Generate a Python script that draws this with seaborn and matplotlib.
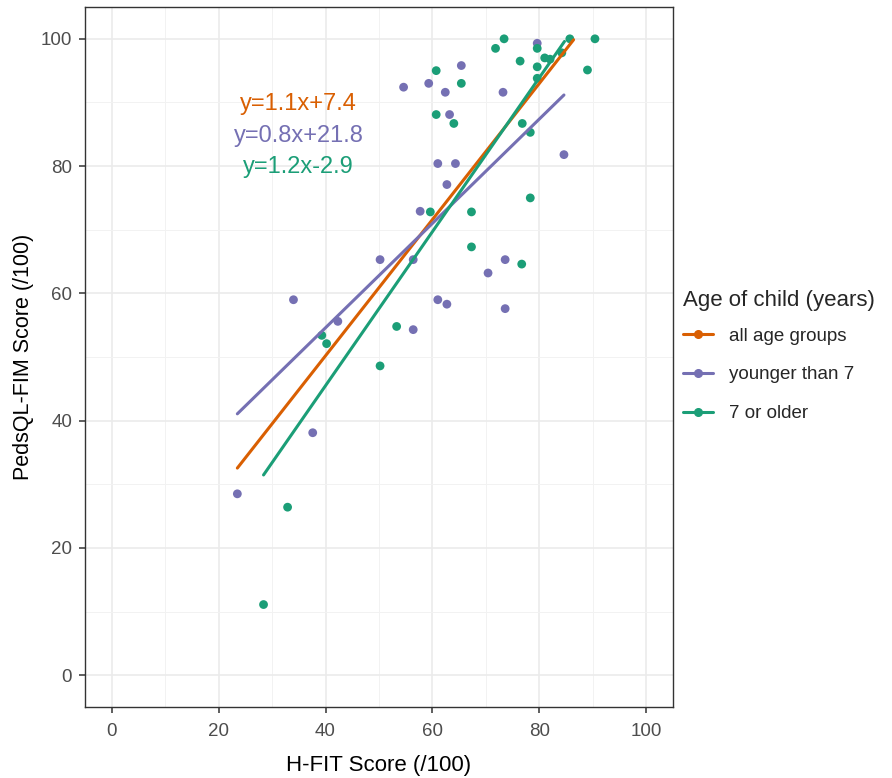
import matplotlib
matplotlib.use("Agg")
import matplotlib.pyplot as plt
from matplotlib.lines import Line2D
from matplotlib.ticker import MultipleLocator
import pandas as pd
import seaborn as sns

# ---------------------------------------------------------------------------
# Data
# ---------------------------------------------------------------------------
young_x = [54.6, 57.7, 79.6, 65.4, 59.3, 62.4, 73.2, 63.2, 84.6, 61.0, 64.3, 62.7,
           50.2, 56.4, 34.0, 42.3, 56.4, 73.6, 70.4, 61.0, 62.7, 73.6, 37.6, 23.5]
young_y = [92.4, 72.9, 99.3, 95.8, 93.0, 91.6, 91.6, 88.1, 81.8, 80.4, 80.4, 77.1,
           65.3, 65.3, 59.0, 55.6, 54.3, 65.3, 63.2, 59.0, 58.3, 57.6, 38.1, 28.5]

older_x = [73.4, 71.8, 79.6, 85.7, 90.4, 81.0, 82.0, 84.2, 76.4, 79.6, 79.6, 89.0,
           60.7, 65.4, 60.7, 64.0, 76.8, 78.3, 78.3, 59.6, 67.3, 67.3, 76.7, 53.3,
           39.3, 40.2, 50.2, 32.9, 28.4]
older_y = [100.0, 98.5, 98.5, 100.0, 100.0, 97.0, 96.8, 97.8, 96.5, 95.6, 93.8, 95.1,
           95.0, 93.0, 88.1, 86.7, 86.7, 85.3, 75.0, 72.8, 72.8, 67.3, 64.6, 54.8,
           53.4, 52.1, 48.6, 26.4, 11.1]

groups = ["all age groups", "younger than 7", "7 or older"]
fit_slope = [1.07, 0.82, 1.21]
fit_intercept = [7.4, 21.8, -2.9]
fit_x_min = [23.5, 23.5, 28.4]
fit_x_max = [86.4, 84.6, 84.7]
equations = ["y=1.1x+7.4", "y=0.8x+21.8", "y=1.2x-2.9"]

colors = {"all age groups": "#D95F02", "younger than 7": "#7570B3", "7 or older": "#1B9E77"}

points = pd.concat([
    pd.DataFrame({"x": young_x, "y": young_y, "group": "younger than 7"}),
    pd.DataFrame({"x": older_x, "y": older_y, "group": "7 or older"}),
], ignore_index=True)

fit_rows = []
for g, m, b, x0, x1 in zip(groups, fit_slope, fit_intercept, fit_x_min, fit_x_max):
    for xv in (x0, x1):
        fit_rows.append({"x": xv, "y": m * xv + b, "group": g})
fits = pd.DataFrame(fit_rows)

# ---------------------------------------------------------------------------
# Plot
# ---------------------------------------------------------------------------
sns.set_theme(style="whitegrid")
plt.rcParams["font.family"] = ["Liberation Sans", "DejaVu Sans"]

fig = plt.figure(figsize=(8.92, 7.78), dpi=100)
ax = fig.add_axes([85 / 892, 1 - 707 / 778, (673 - 85) / 892, (707 - 7) / 778])
ax.set_facecolor("white")

sns.scatterplot(data=points, x="x", y="y", hue="group", palette=colors, s=40,
                linewidth=0, legend=False, ax=ax, zorder=3)
sns.lineplot(data=fits, x="x", y="y", hue="group", palette=colors, linewidth=2.2,
             estimator=None, sort=False, legend=False, ax=ax, zorder=4)

eq_y = [89.7, 84.7, 79.9]
for txt, g, yy in zip(equations, groups, eq_y):
    ax.text(35.0, yy, txt, color=colors[g], ha="center", va="center", fontsize=17)

ax.set_xlim(-5, 105)
ax.set_ylim(-5, 105)
ax.xaxis.set_major_locator(MultipleLocator(20))
ax.yaxis.set_major_locator(MultipleLocator(20))
ax.xaxis.set_minor_locator(MultipleLocator(10))
ax.yaxis.set_minor_locator(MultipleLocator(10))
ax.grid(which="major", color="#EBEBEB", linewidth=1.2)
ax.grid(which="minor", color="#F2F2F2", linewidth=0.7)
ax.set_axisbelow(True)
for sp in ax.spines.values():
    sp.set_color("#333333")
    sp.set_linewidth(1.0)
ax.tick_params(which="major", direction="out", length=4.3, width=1.1, color="#333333",
               labelcolor="#4D4D4D", labelsize=13.5, bottom=True, left=True)
ax.tick_params(axis="x", which="major", pad=7)
ax.tick_params(axis="y", which="major", pad=5)
ax.tick_params(which="minor", length=0)

ax.set_xlabel("H-FIT Score (/100)", fontsize=16, color="black", labelpad=11)
ax.set_ylabel("PedsQL-FIM Score (/100)", fontsize=15.5, color="black", labelpad=5)

handles = [Line2D([], [], color=colors[g], lw=2.2, marker="o", markersize=5.5) for g in groups]
leg = fig.legend(handles, groups, title="Age of child (years)", loc="center left",
                 bbox_to_anchor=(666 / 892, 1 - 356 / 778), frameon=False,
                 fontsize=13.5, title_fontsize=16, labelspacing=1.15,
                 handlelength=1.6, handletextpad=0.85)
leg._legend_box.align = "left"
leg._legend_box.sep = 12

fig.savefig("out.png", dpi=100)
